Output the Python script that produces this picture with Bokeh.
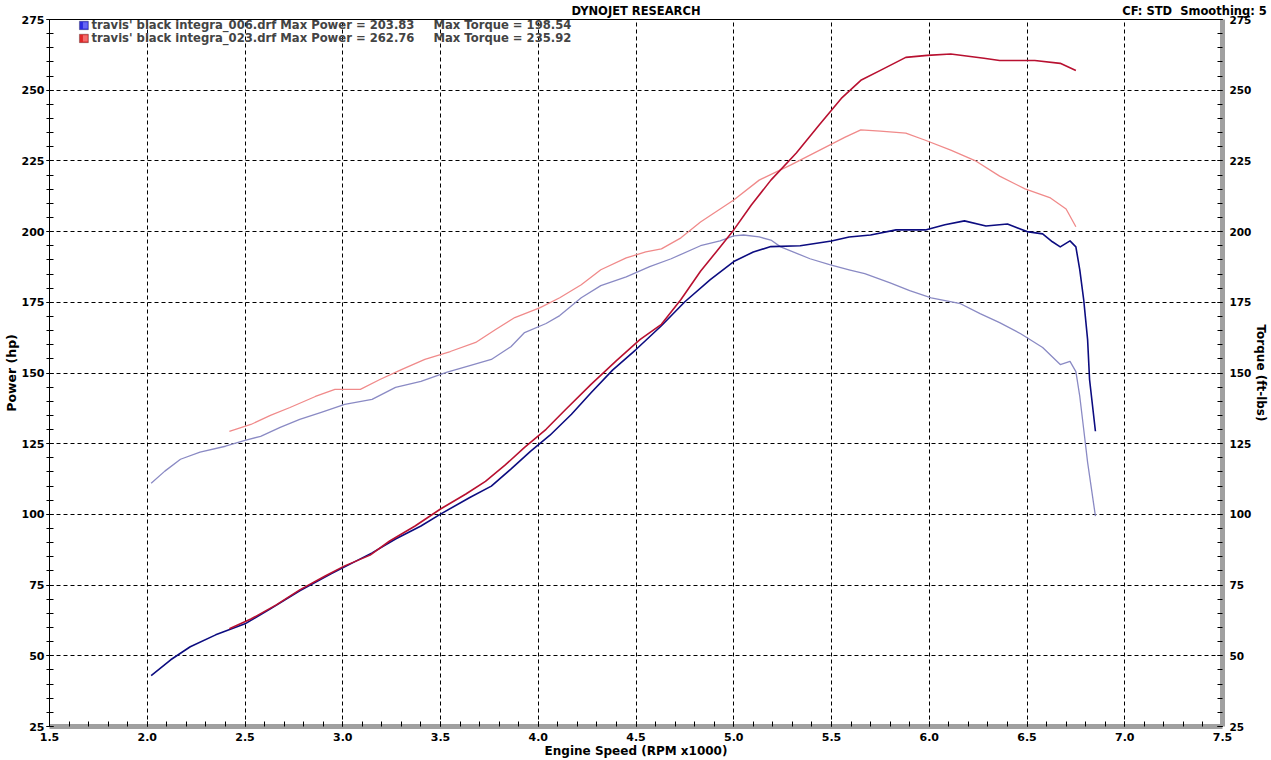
from bokeh.plotting import figure
from bokeh.models import (Range1d, LinearAxis, SingleIntervalTicker, FixedTicker,
                          PrintfTickFormatter, Label, BoxAnnotation)
from bokeh.embed import file_html
from bokeh.resources import INLINE

# ---------------- data ----------------
run_names = ["travis' black integra_006.drf", "travis' black integra_023.drf"]
max_power = [203.83, 262.76]
max_torque = [198.54, 235.92]

rpm_006_power = [2.02, 2.12, 2.22, 2.35, 2.50, 2.63, 2.78, 2.94, 3.04, 3.15, 3.27, 3.40, 3.50,
                 3.65, 3.76, 3.86, 3.96, 4.06, 4.17, 4.27, 4.38, 4.50, 4.63, 4.75, 4.88, 5.00,
                 5.10, 5.19, 5.34, 5.50, 5.59, 5.70, 5.83, 5.98, 6.08, 6.18, 6.29, 6.40, 6.50,
                 6.58, 6.63, 6.67, 6.72, 6.75, 6.77, 6.79, 6.81, 6.82, 6.85]
hp_006 = [43.0, 48.6, 53.2, 57.4, 61.3, 66.6, 73.0, 79.0, 82.5, 86.4, 91.3, 95.9, 100.1,
          106.0, 110.0, 116.0, 122.3, 128.0, 135.4, 143.0, 151.0, 158.3, 166.7, 175.2, 183.0, 189.4,
          192.8, 194.7, 195.0, 196.7, 198.1, 198.8, 200.6, 200.6, 202.4, 203.8, 202.0, 202.7, 200.0,
          199.2, 196.4, 194.6, 196.7, 194.6, 186.5, 175.9, 161.8, 147.7, 129.4]

rpm_006_torque = [2.02, 2.09, 2.17, 2.27, 2.40, 2.50, 2.58, 2.68, 2.78, 2.89, 3.01, 3.15, 3.27,
                  3.40, 3.53, 3.65, 3.76, 3.86, 3.93, 4.04, 4.11, 4.22, 4.32, 4.45, 4.57, 4.68,
                  4.83, 4.93, 5.00, 5.05, 5.13, 5.19, 5.24, 5.39, 5.49, 5.59, 5.67, 5.80, 5.90,
                  6.01, 6.16, 6.26, 6.36, 6.47, 6.58, 6.67, 6.72, 6.75, 6.77, 6.79, 6.81, 6.85]
tq_006 = [111.0, 115.3, 119.5, 122.0, 124.1, 126.2, 127.6, 130.8, 133.6, 136.1, 138.9, 140.7, 144.9,
          147.0, 150.2, 152.6, 154.8, 159.3, 164.3, 167.5, 170.3, 176.6, 180.9, 184.0, 187.6, 190.4,
          195.0, 196.7, 198.5, 198.8, 198.1, 197.0, 194.6, 190.4, 188.3, 186.5, 185.1, 181.9, 179.1,
          176.6, 174.5, 171.0, 167.8, 163.8, 159.0, 153.0, 154.1, 150.5, 141.7, 130.1, 118.4, 99.4]

rpm_023_power = [2.42, 2.53, 2.66, 2.78, 2.91, 3.01, 3.14, 3.24, 3.37, 3.50, 3.63, 3.73, 3.83,
                 3.93, 4.04, 4.14, 4.27, 4.40, 4.52, 4.63, 4.73, 4.83, 4.91, 5.00, 5.09, 5.19,
                 5.32, 5.44, 5.55, 5.65, 5.75, 5.88, 5.99, 6.11, 6.28, 6.36, 6.54, 6.67, 6.75]
hp_023 = [59.6, 63.0, 68.0, 73.3, 78.2, 81.8, 85.6, 90.6, 95.9, 101.9, 107.2, 111.7, 117.4,
          123.7, 130.1, 137.1, 146.0, 154.4, 161.8, 167.2, 176.0, 186.0, 192.8, 200.6, 209.4, 218.2,
          227.8, 238.0, 247.1, 253.5, 257.0, 261.6, 262.3, 262.8, 261.3, 260.5, 260.5, 259.5, 257.0]

rpm_023_torque = [2.42, 2.53, 2.63, 2.73, 2.86, 2.96, 3.09, 3.19, 3.30, 3.42, 3.55, 3.68, 3.78,
                  3.88, 4.01, 4.11, 4.22, 4.32, 4.45, 4.55, 4.63, 4.73, 4.83, 5.00, 5.13, 5.29,
                  5.44, 5.57, 5.65, 5.75, 5.88, 5.98, 6.11, 6.24, 6.36, 6.49, 6.62, 6.70, 6.75]
tq_023 = [129.4, 131.8, 135.0, 137.8, 141.7, 144.2, 144.2, 147.7, 151.2, 154.8, 157.6, 160.8, 165.3,
          169.6, 173.1, 176.6, 181.2, 186.5, 190.7, 192.8, 193.9, 197.8, 203.4, 211.2, 218.2, 223.5,
          228.8, 233.4, 236.0, 235.5, 234.8, 232.3, 228.8, 224.9, 219.6, 215.1, 211.9, 208.0, 201.7]

title_text = "DYNOJET RESEARCH"
info_text = "CF: STD\u00a0 Smoothing: 5"
x_label = "Engine Speed (RPM x1000)"
y_label = "Power (hp)"
y2_label = "Torque (ft-lbs)"

# ---------------- styling ----------------
FONT = "DejaVu Sans"
C_POW_006 = "#0c0c80"
C_TQ_006 = "#8a8ac4"
C_POW_023 = "#b81030"
C_TQ_023 = "#f08a8a"

p = figure(width=1271, height=760, x_range=Range1d(1.5, 7.5), y_range=Range1d(25, 275),
           output_backend="svg", toolbar_location=None,
           min_border_left=49, min_border_right=48, min_border_top=19, min_border_bottom=32,
           x_axis_location=None, y_axis_location=None)
p.background_fill_color = "white"
p.border_fill_color = "white"
p.outline_line_color = "black"
p.outline_line_width = 1

xt = SingleIntervalTicker(interval=0.5, num_minor_ticks=5)
yt = SingleIntervalTicker(interval=25, num_minor_ticks=5)

def style_axis(ax, size="11px"):
    ax.major_label_text_font = FONT
    ax.major_label_text_font_style = "bold"
    ax.major_label_text_font_size = size
    ax.major_label_text_color = "black"
    ax.axis_label_text_font = FONT
    ax.axis_label_text_font_style = "bold"
    ax.axis_label_text_color = "black"
    ax.major_tick_line_color = "black"
    ax.minor_tick_line_color = "black"

# bottom axis
xax = LinearAxis(ticker=xt, formatter=PrintfTickFormatter(format="%.1f"), axis_label=x_label)
style_axis(xax)
xax.axis_label_text_font_size = "12px"
xax.axis_line_color = "#a0a0a0"
xax.axis_line_width = 5
xax.major_tick_in = 5
xax.major_tick_out = 0
xax.minor_tick_in = 5
xax.minor_tick_out = 0
xax.major_label_standoff = 6
xax.axis_label_standoff = 0
p.add_layout(xax, "below")

# left axis
yax = LinearAxis(ticker=yt, axis_label=y_label)
style_axis(yax)
yax.axis_label_text_font_size = "12.5px"
yax.axis_line_color = "black"
yax.major_tick_in = 4
yax.major_tick_out = 3
yax.minor_tick_in = 4
yax.minor_tick_out = 3
yax.major_label_standoff = 2
yax.axis_label_standoff = 0
p.add_layout(yax, "left")

# right axis
y2ax = LinearAxis(ticker=yt, axis_label=y2_label)
style_axis(y2ax, "10.5px")
y2ax.axis_label_text_font_size = "12px"
y2ax.axis_line_color = "#a0a0a0"
y2ax.axis_line_width = 5
y2ax.major_tick_in = 5
y2ax.major_tick_out = 0
y2ax.minor_tick_in = 5
y2ax.minor_tick_out = 0
y2ax.major_label_standoff = 7
y2ax.axis_label_standoff = 0
p.add_layout(y2ax, "right")

# top header row carried by an axis with two labelled positions
head_pos = [4.5, 7.357]
head_texts = [title_text, info_text]
tax = LinearAxis(ticker=FixedTicker(ticks=head_pos),
                 major_label_overrides={k: v for k, v in zip(head_pos, head_texts)})
tax.major_label_text_font = FONT
tax.major_label_text_font_style = "bold"
tax.major_label_text_font_size = "11.5px"
tax.major_label_text_color = "black"
tax.axis_line_color = None
tax.major_tick_line_color = None
tax.minor_tick_line_color = None
tax.major_tick_in = 0
tax.major_tick_out = 0
tax.major_label_standoff = 2
p.add_layout(tax, "above")

p.xgrid.ticker = xt
p.ygrid.ticker = yt
for g in (p.xgrid, p.ygrid):
    g.grid_line_color = "black"
    g.grid_line_dash = "4 3"
    g.grid_line_width = 1

# ---------------- curves ----------------
p.line(rpm_006_torque, tq_006, line_color=C_TQ_006, line_width=1.3, line_join="round")
p.line(rpm_023_torque, tq_023, line_color=C_TQ_023, line_width=1.3, line_join="round")
p.line(rpm_006_power, hp_006, line_color=C_POW_006, line_width=1.6, line_join="round")
p.line(rpm_023_power, hp_023, line_color=C_POW_023, line_width=1.6, line_join="round")

# ---------------- legend ----------------
leg_colors = [("#2a2ae0", "#9090ff"), ("#e02828", "#ff9a9a")]
leg_y = [272.9, 268.3]
for i in range(2):
    fill, light = leg_colors[i]
    yc = leg_y[i]
    p.add_layout(BoxAnnotation(left=1.653, right=1.699, bottom=yc - 1.5, top=yc + 1.5,
                               fill_color=fill, fill_alpha=1.0, line_color="#202020", line_width=1))
    p.add_layout(BoxAnnotation(left=1.671, right=1.695, bottom=yc - 1.1, top=yc + 1.1,
                               fill_color=light, fill_alpha=0.6, line_color=None))
    p.add_layout(Label(x=1.7148, y=yc, text=f"{run_names[i]} Max Power = {max_power[i]:.2f}",
                       text_font=FONT, text_font_style="bold", text_font_size="11.6px",
                       text_align="left", text_baseline="middle"))
    p.add_layout(Label(x=3.464, y=yc, text=f"Max Torque = {max_torque[i]:.2f}",
                       text_font=FONT, text_font_style="bold", text_font_size="11.6px",
                       text_align="left", text_baseline="middle"))

open("out.html", "w").write(file_html(p, INLINE))
